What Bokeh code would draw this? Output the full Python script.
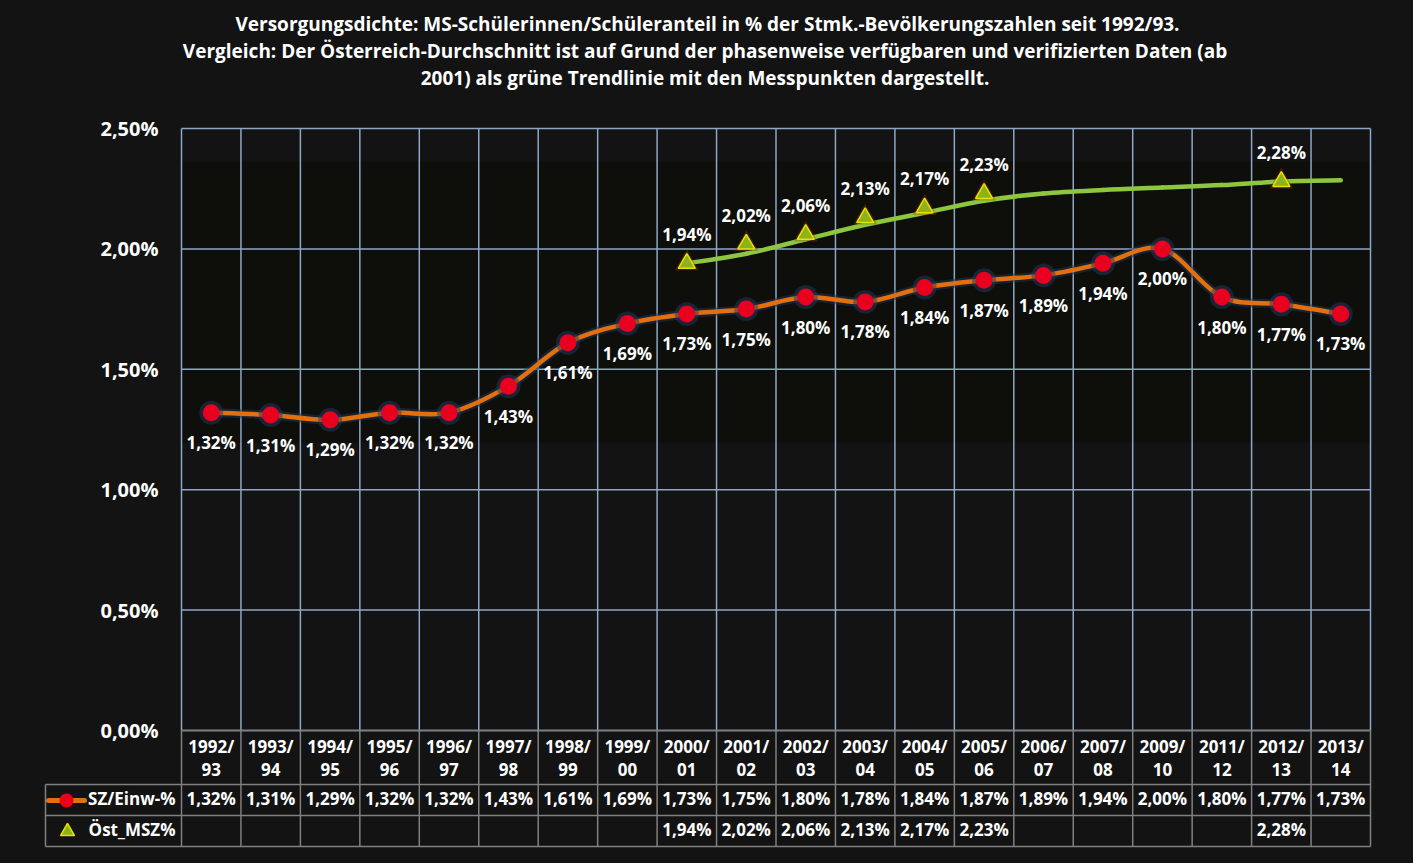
import math
from bokeh.plotting import figure
from bokeh.models import Range1d, FixedTicker, CustomJSTickFormatter
from bokeh.core.properties import value
from bokeh.embed import file_html
from bokeh.resources import INLINE

# ---------------- data ----------------
categories = ["1992/93", "1993/94", "1994/95", "1995/96", "1996/97", "1997/98",
              "1998/99", "1999/00", "2000/01", "2001/02", "2002/03", "2003/04",
              "2004/05", "2005/06", "2006/07", "2007/08", "2009/10", "2011/12",
              "2012/13", "2013/14"]
sz_einw = [1.32, 1.31, 1.29, 1.32, 1.32, 1.43, 1.61, 1.69, 1.73, 1.75,
           1.80, 1.78, 1.84, 1.87, 1.89, 1.94, 2.00, 1.80, 1.77, 1.73]
NA = float("nan")
oest_msz = [NA, NA, NA, NA, NA, NA, NA, NA, 1.94, 2.02,
            2.06, 2.13, 2.17, 2.23, NA, NA, NA, NA, 2.28, NA]
oest_trend = [NA, NA, NA, NA, NA, NA, NA, NA, 1.94, 1.98,
              2.04, 2.10, 2.15, 2.20, 2.23, 2.245, 2.255, 2.265, 2.28, 2.285]
y_ticks = [0, 0.5, 1.0, 1.5, 2.0, 2.5]
series_names = ["SZ/Einw-%", "Öst_MSZ%"]
title_lines = [
    "Versorgungsdichte: MS-Schülerinnen/Schüleranteil in % der Stmk.-Bevölkerungszahlen seit 1992/93.",
    "Vergleich: Der Österreich-Durchschnitt ist auf Grund der phasenweise verfügbaren und verifizierten  Daten (ab",
    "2001) als grüne Trendlinie  mit den Messpunkten dargestellt.",
]

# ---------------- style / layout ----------------
BG = "#131313"
GRID = "#8EA7C7"
TABLE = "#808080"
ORANGE = "#E2700F"
RED = "#E8001E"
GREEN = "#8DC63F"
TRI_FILL = "#8CB31E"
TRI_LINE = "#E8E000"
FONT = value("Open Sans")

W, H = 1413, 863
PLOT_L, PLOT_R = 181, 1370      # px of plot-area edges
PLOT_T, PLOT_B = 128, 730       # px of 2.5 % and 0 %
n = len(categories)
CAT_PX = (PLOT_R - PLOT_L) / n
Y_PX = (PLOT_B - PLOT_T) / 2.5


def X(px):
    return (px - PLOT_L) / CAT_PX - 0.5


def Y(py):
    return (PLOT_B - py) / Y_PX


xs = list(range(n))


def fmt(v):
    return ("%.2f" % v).replace(".", ",") + "%"


def smooth(xv, yv):
    pts = [(a, b) for a, b in zip(xv, yv) if not math.isnan(b)]
    out = {k: [] for k in ("x0", "y0", "x1", "y1", "cx0", "cy0", "cx1", "cy1")}
    m = len(pts)
    for i in range(m - 1):
        p0 = pts[i - 1] if i > 0 else pts[i]
        p1 = pts[i]
        p2 = pts[i + 1]
        p3 = pts[i + 2] if i + 2 < m else pts[i + 1]
        out["x0"].append(p1[0]); out["y0"].append(p1[1])
        out["x1"].append(p2[0]); out["y1"].append(p2[1])
        out["cx0"].append(p1[0] + (p2[0] - p0[0]) / 6)
        out["cy0"].append(p1[1] + (p2[1] - p0[1]) / 6)
        out["cx1"].append(p2[0] - (p3[0] - p1[0]) / 6)
        out["cy1"].append(p2[1] - (p3[1] - p1[1]) / 6)
    return out


txt = dict(text_color="white", text_font=FONT, text_font_style="bold",
           text_font_size="17px", text_align="center", text_baseline="middle")

p = figure(width=W, height=H, x_range=Range1d(X(0), X(W)), y_range=Range1d(Y(H), Y(0)),
           toolbar_location=None, output_backend="svg", x_axis_type=None,
           background_fill_color=BG, border_fill_color=BG, outline_line_color=None,
           min_border=0)
p.ygrid.visible = False
ax = p.yaxis[0]
ax.fixed_location = -0.5
ax.bounds = (0, 2.5)
ax.ticker = FixedTicker(ticks=y_ticks)
ax.formatter = CustomJSTickFormatter(code="return tick.toFixed(2).replace('.', ',') + '%';")
ax.axis_line_color = None
ax.major_tick_line_color = None
ax.minor_tick_line_color = None
ax.major_tick_in = 0
ax.major_tick_out = 0
ax.major_label_text_color = "white"
ax.major_label_text_font = "Open Sans"
ax.major_label_text_font_style = "bold"
ax.major_label_text_font_size = "20px"
ax.major_label_standoff = 23

# ---- title ----
p.text(x=[X(707)] * 3, y=[Y(23), Y(50), Y(77)], text=title_lines,
       **{**txt, "text_font_size": "19px"})

# ---- plot-area inner shading and grid ----
p.quad(left=[-0.5], right=[n - 0.5], top=[Y(161)], bottom=[Y(442)],
       fill_color="#0e0e0a", line_color=None)
edges = [i - 0.5 for i in range(n + 1)]
p.segment(x0=edges, y0=[0] * len(edges), x1=edges, y1=[2.5] * len(edges),
          line_color=GRID, line_width=1.5)
p.segment(x0=[-0.5] * len(y_ticks), y0=y_ticks, x1=[n - 0.5] * len(y_ticks), y1=y_ticks,
          line_color=GRID, line_width=1.5)

# ---- data table ----
hdr_b, r1_b, r2_b = Y(784), Y(815), Y(846)
leg_l = X(45)
p.segment(x0=edges, y0=[0] * len(edges), x1=edges, y1=[r2_b] * len(edges),
          line_color=TABLE, line_width=1.5)
p.segment(x0=[-0.5, leg_l, leg_l, leg_l], y0=[0, hdr_b, r1_b, r2_b],
          x1=[n - 0.5] * 4, y1=[0, hdr_b, r1_b, r2_b], line_color=TABLE, line_width=1.5)
p.segment(x0=[leg_l], y0=[hdr_b], x1=[leg_l], y1=[r2_b], line_color=TABLE, line_width=1.5)
top_lbl = [c.split("/")[0] + "/" for c in categories]
bot_lbl = [c.split("/")[1] for c in categories]
p.text(x=xs, y=[Y(746)] * n, text=top_lbl, **txt)
p.text(x=xs, y=[Y(769)] * n, text=bot_lbl, **txt)
p.text(x=xs, y=[Y(798)] * n, text=[fmt(v) for v in sz_einw], **txt)
ox = [x for x, v in zip(xs, oest_msz) if not math.isnan(v)]
oy = [v for v in oest_msz if not math.isnan(v)]
p.text(x=ox, y=[Y(829)] * len(ox), text=[fmt(v) for v in oy], **txt)
# legend cells
p.segment(x0=[X(48)], y0=[Y(800)], x1=[X(84)], y1=[Y(800)], line_color=ORANGE, line_width=5,
          line_cap="round")
p.scatter([X(66)], [Y(800)], marker="circle", size=14, fill_color=RED, line_color=None)
p.scatter([X(67)], [Y(831)], marker="triangle", size=14, fill_color=TRI_FILL,
          line_color=TRI_LINE, line_width=1.5)
p.text(x=[X(175)] * 2, y=[Y(798), Y(829)], text=series_names,
       **{**txt, "text_align": "right"})

# ---- green trend line with triangles ----
g = smooth(xs, oest_trend)
p.bezier(source=g, x0="x0", y0="y0", x1="x1", y1="y1", cx0="cx0", cy0="cy0", cx1="cx1",
         cy1="cy1", line_color=GREEN, line_width=4.5, line_cap="round")
p.scatter(ox, oy, marker="triangle", size=24, fill_color="#9a3a00", fill_alpha=0.35,
          line_color=None)
p.scatter(ox, oy, marker="triangle", size=17, fill_color=TRI_FILL, line_color=TRI_LINE,
          line_width=1.5)
p.text(x=ox, y=oy, text=[fmt(v) for v in oy], y_offset=-29, **txt)

# ---- orange smoothed line with red dots ----
o = smooth(xs, sz_einw)
p.bezier(source=o, x0="x0", y0="y0", x1="x1", y1="y1", cx0="cx0", cy0="cy0", cx1="cx1",
         cy1="cy1", line_color="#1d3555", line_alpha=0.5, line_width=9, line_cap="round")
p.bezier(source=o, x0="x0", y0="y0", x1="x1", y1="y1", cx0="cx0", cy0="cy0", cx1="cx1",
         cy1="cy1", line_color=ORANGE, line_width=4.5, line_cap="round")
p.scatter(xs, sz_einw, marker="circle", size=24, fill_color="#1d3a60", fill_alpha=0.5,
          line_color=None)
p.scatter(xs, sz_einw, marker="circle", size=17, fill_color=RED, line_color=None)
p.text(x=xs, y=sz_einw, text=[fmt(v) for v in sz_einw], y_offset=30, **txt)

html = file_html(p, INLINE)
html = html.replace("</head>", "<style>body{background:#131313;}</style></head>", 1)
open("out.html", "w").write(html)
